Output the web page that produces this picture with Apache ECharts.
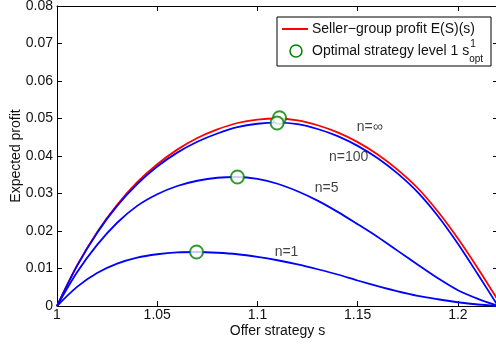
<!DOCTYPE html>
<html>
<head>
<meta charset="utf-8">
<script src="https://cdn.jsdelivr.net/npm/echarts@6/dist/echarts.min.js"></script>
<style>
html,body{margin:0;padding:0;background:#fff;}
#chart{width:496px;height:345px;}
</style>
</head>
<body>
<div id="chart"></div>
<script>
// ---- data ----
const offerS = [1.00,1.01,1.02,1.03,1.04,1.05,1.06,1.07,1.08,1.09,1.10,1.11,1.12,1.13,1.14,1.15,1.16,1.17,1.18,1.19,1.20,1.21,1.22];
const profitInf = [0,0.0108,0.0197,0.0270,0.0330,0.0378,0.0417,0.0448,0.0471,0.0488,0.0497,0.0500,0.0495,0.0482,0.0463,0.0437,0.0404,0.0363,0.0314,0.0252,0.0180,0.0100,0.0015];
const profit100 = [0,0.0107,0.0195,0.0267,0.0325,0.0372,0.0409,0.0438,0.0460,0.0477,0.0486,0.0489,0.0485,0.0472,0.0453,0.0427,0.0394,0.0353,0.0303,0.0240,0.0166,0.0084,0];
const profit5 = [0,0.0090,0.0163,0.0222,0.0267,0.0298,0.0320,0.0334,0.0342,0.0344,0.0339,0.0326,0.0306,0.0281,0.0251,0.0218,0.0184,0.0147,0.0110,0.0074,0.0042,0.0019,0];
const profit1 = [0,0.0051,0.0088,0.0113,0.0129,0.0138,0.0143,0.0144,0.0142,0.0138,0.0131,0.0122,0.0111,0.0098,0.0084,0.0068,0.0053,0.0039,0.0027,0.0018,0.0010,0.0004,0];
const optS = [1.1110,1.1098,1.0900,1.0696];
const optV = [0.0502,0.0488,0.0344,0.0144];
const curveLabels = ['n=\u221e','n=100','n=5','n=1'];
const curveLabelS = [1.1560,1.1455,1.1345,1.1145];
const curveLabelV = [0.0477,0.0397,0.0314,0.0143];
const xTickLabels = ['1','1.05','1.1','1.15','1.2'];
const yTickLabels = ['0','0.01','0.02','0.03','0.04','0.05','0.06','0.07','0.08'];
const legendLine = 'Seller\u2212group profit E(S)(s)';
const legendCircle = 'Optimal strategy level 1 s';
const xName = 'Offer strategy s';
const yName = 'Expected profit';

const FONT = '"Liberation Sans", Arial, sans-serif';
const pair = (xs, ys) => xs.map((x, i) => [x, ys[i]]);
const fmtX = v => { const s = String(+v.toFixed(2)); return xTickLabels.includes(s) ? s : ''; };
const fmtY = v => { const s = v === 0 ? '0' : v.toFixed(2); return yTickLabels.includes(s) ? s : ''; };

const chart = echarts.init(document.getElementById('chart'), null, {renderer:'canvas'});

// measure text for superscript/subscript placement
const ctx = document.createElement('canvas').getContext('2d');
ctx.font = '14px ' + FONT;
const mainW = ctx.measureText(legendCircle).width;
const legX = 312;

const axisCommon = {
  type:'value', min:1, max:1.22, interval:0.05,
  axisLine:{show:true, onZero:false, lineStyle:{color:'#000', width:1}},
  axisTick:{show:true, inside:true, length:5, lineStyle:{color:'#000', width:1}},
  splitLine:{show:false}
};
const yCommon = {
  type:'value', min:0, max:0.08, interval:0.01,
  axisLine:{show:true, onZero:false, lineStyle:{color:'#000', width:1}},
  axisTick:{show:true, inside:true, length:5, lineStyle:{color:'#000', width:1}},
  splitLine:{show:false}
};

const lineSeries = (name, ys, color) => ({
  name, type:'line', data: pair(offerS, ys), showSymbol:false, symbol:'none',
  smooth:0.3, lineStyle:{color, width:1.8}, itemStyle:{color}, z:2, silent:true, animation:false
});

chart.setOption({
  animation:false,
  backgroundColor:'#fff',
  grid:{left:57, right:-2, top:6, bottom:39, containLabel:false, outerBoundsMode:'none'},
  xAxis:[
    Object.assign({}, axisCommon, {position:'bottom',
      axisLabel:{show:true, showMaxLabel:false, formatter:fmtX, color:'#111', fontSize:14, fontFamily:FONT, margin:2},
      name:xName, nameLocation:'middle', nameGap:18, nameMoveOverlap:false,
      nameTextStyle:{color:'#111', fontSize:14, fontFamily:FONT}}),
    Object.assign({}, axisCommon, {position:'top', axisLabel:{show:false}})
  ],
  yAxis:[
    Object.assign({}, yCommon, {position:'left',
      axisLabel:{show:true, formatter:fmtY, color:'#111', fontSize:14, fontFamily:FONT, margin:4},
      name:yName, nameLocation:'middle', nameGap:34, nameMoveOverlap:false,
      nameTextStyle:{color:'#111', fontSize:14, fontFamily:FONT}}),
    Object.assign({}, yCommon, {position:'right', axisLabel:{show:false}})
  ],
  series:[
    lineSeries('n=inf', profitInf, '#ff0000'),
    lineSeries('n=100', profit100, '#0000ff'),
    lineSeries('n=5', profit5, '#0000ff'),
    lineSeries('n=1', profit1, '#0000ff'),
    {
      name:'opt', type:'scatter', data: pair(optS, optV), symbol:'emptyCircle', symbolSize:13,
      itemStyle:{color:'#008000', borderColor:'#008000', borderWidth:1.5}, z:5, silent:true
    },
    {
      name:'labels', type:'scatter', symbolSize:1, itemStyle:{color:'rgba(0,0,0,0)'},
      data: curveLabelS.map((s, i) => [s, curveLabelV[i], curveLabels[i]]),
      label:{show:true, position:'inside', formatter:p => p.data[2], color:'#111', fontSize:14, fontFamily:FONT},
      z:4, silent:true
    }
  ],
  graphic:[
    {type:'rect', shape:{x:277, y:17, width:214, height:49}, style:{fill:'#fff', stroke:'#000', lineWidth:1}, z:10},
    {type:'line', shape:{x1:282, y1:29, x2:308, y2:29}, style:{stroke:'#ff0000', lineWidth:2}, z:11},
    {type:'text', x:legX, y:29, style:{text:legendLine, font:'14px ' + FONT, fill:'#111', verticalAlign:'middle', align:'left'}, z:11},
    {type:'circle', shape:{cx:296, cy:51, r:6}, style:{fill:'none', stroke:'#008000', lineWidth:1.5}, z:11},
    {type:'text', x:legX, y:51, style:{text:legendCircle, font:'14px ' + FONT, fill:'#111', verticalAlign:'middle', align:'left'}, z:11},
    {type:'text', x:legX + mainW + 1, y:44, style:{text:'1', font:'10px ' + FONT, fill:'#111', verticalAlign:'middle', align:'left'}, z:11},
    {type:'text', x:legX + mainW, y:59, style:{text:'opt', font:'10px ' + FONT, fill:'#111', verticalAlign:'middle', align:'left'}, z:11}
  ]
});
</script>
</body>
</html>
